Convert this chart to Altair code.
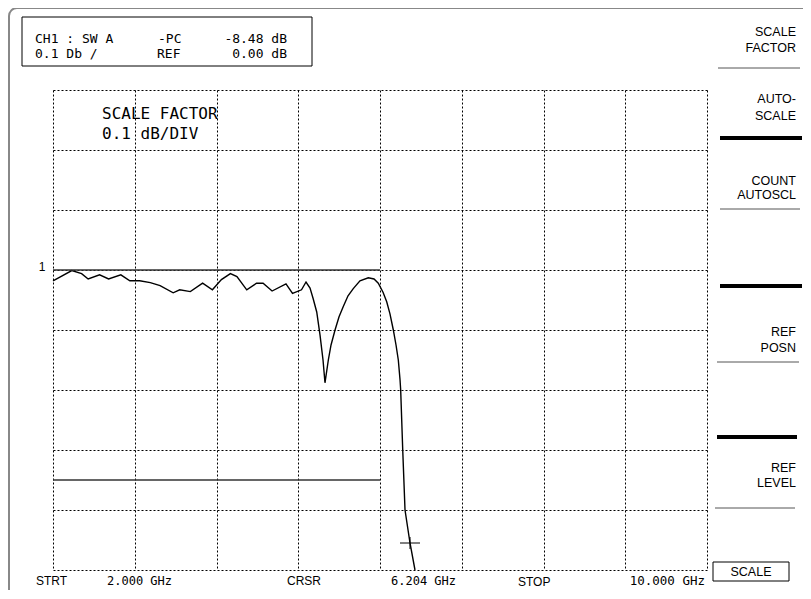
import altair as alt
import pandas as pd

# ---- trace data (frequency in GHz, transmission in dB) ----
freq_ghz = [2.00, 2.23, 2.35, 2.43, 2.57, 2.68, 2.83, 2.94, 3.06, 3.19, 3.31, 3.47,
            3.55, 3.68, 3.83, 3.95, 4.06, 4.17, 4.25, 4.37, 4.49, 4.57, 4.68, 4.85,
            4.93, 5.04, 5.095, 5.144, 5.181, 5.226, 5.266, 5.303, 5.327, 5.368, 5.401,
            5.450, 5.499, 5.551, 5.609, 5.673, 5.755, 5.857, 5.927, 5.979, 6.037,
            6.082, 6.122, 6.163, 6.196, 6.224, 6.245, 6.253, 6.278, 6.306, 6.367, 6.428]
level_db = [-0.018, -0.001, -0.006, -0.015, -0.008, -0.015, -0.008, -0.018, -0.018,
            -0.021, -0.026, -0.038, -0.033, -0.036, -0.022, -0.033, -0.016, -0.006,
            -0.011, -0.033, -0.022, -0.022, -0.035, -0.023, -0.039, -0.033, -0.020,
            -0.030, -0.047, -0.070, -0.108, -0.150, -0.188, -0.150, -0.125, -0.100,
            -0.078, -0.061, -0.043, -0.031, -0.018, -0.013, -0.015, -0.022, -0.037,
            -0.053, -0.073, -0.100, -0.125, -0.150, -0.183, -0.200, -0.300, -0.400,
            -0.455, -0.500]

ref_line_ghz = [2.0, 6.0]
ref_line_db = [0.0, -0.35]
cursor_ghz = [6.367]
cursor_db = [-0.455]

x_ticks = [2, 3, 4, 5, 6, 7, 8, 9, 10]
y_ticks = [-0.5, -0.4, -0.3, -0.2, -0.1, 0.0, 0.1, 0.2, 0.3]

header_line1 = ["CH1 : SW A", "-PC", "-8.48 dB"]
header_line2 = ["0.1 Db /", "REF", "0.00 dB"]
scale_text = ["SCALE FACTOR", "0.1 dB/DIV"]
softkeys = [["SCALE", "FACTOR"], ["AUTO-", "SCALE"], ["COUNT", "AUTOSCL"],
            ["REF", "POSN"], ["REF", "LEVEL"]]
bottom_labels = ["STRT", "2.000 GHz", "CRSR", "6.204 GHz", "STOP", "10.000 GHz"]

# ---- layout helpers (page pixel coords -> plot group coords) ----
OX, OY = 53, 90
W, H = 654, 480
MONO = "DejaVu Sans Mono"
SANS = "Liberation Sans"
one = alt.Data(values=[{}])


def text(t, x, y, size=12, font=SANS, align="left", baseline="middle"):
    return alt.Chart(one).mark_text(text=t, align=align, baseline=baseline,
                                    font=font, fontSize=size, color="black").encode(
        x=alt.value(x - OX), y=alt.value(y - OY))


def hline(x1, x2, y, width=1, color="black"):
    return alt.Chart(one).mark_rule(color=color, strokeWidth=width).encode(
        x=alt.value(x1 - OX), x2=alt.value(x2 - OX), y=alt.value(y - OY))


def box(x1, y1, x2, y2, color="black", width=1, radius=0):
    return alt.Chart(one).mark_rect(fillOpacity=0, stroke=color, strokeWidth=width,
                                    cornerRadius=radius).encode(
        x=alt.value(x1 - OX), x2=alt.value(x2 - OX),
        y=alt.value(y1 - OY), y2=alt.value(y2 - OY))


trace = pd.DataFrame({"f": freq_ghz, "db": level_db, "i": range(len(freq_ghz))})
refs = pd.DataFrame({"f0": [ref_line_ghz[0]] * 2, "f1": [ref_line_ghz[1]] * 2,
                     "db": ref_line_db})
cur = pd.DataFrame({"f": cursor_ghz, "db": cursor_db})

grid = dict(grid=True, labels=False, ticks=False, domain=False, title=None,
            gridColor="black", gridDash=[2, 2], gridWidth=1, gridOpacity=1)
xs = alt.Scale(domain=[2, 10], nice=False, zero=False)
ys = alt.Scale(domain=[-0.5, 0.3], nice=False, zero=False)

line = alt.Chart(trace).mark_line(color="black", strokeWidth=1.4).encode(
    x=alt.X("f:Q", scale=xs, axis=alt.Axis(values=x_ticks, **grid)),
    y=alt.Y("db:Q", scale=ys, axis=alt.Axis(values=y_ticks, **grid)),
    order="i:Q")

reflines = alt.Chart(refs).mark_rule(color="#333333", strokeWidth=1.5).encode(
    x=alt.X("f0:Q", scale=xs), x2="f1:Q", y=alt.Y("db:Q", scale=ys))

cursor = alt.Chart(cur).mark_point(shape="M-1,0L1,0M0,-0.6L0,0.6", size=400,
                                   filled=False, color="black", strokeWidth=1,
                                   opacity=1).encode(
    x=alt.X("f:Q", scale=xs), y=alt.Y("db:Q", scale=ys))

layers = [line, reflines, cursor]

# outer frame
layers.append(box(9, 8, 830, 640, color="#888888", width=2, radius=8))

# header box
layers.append(box(22, 17, 312, 66))
layers.append(text(header_line1[0], 35, 39, 13, MONO))
layers.append(text(header_line1[1], 158, 39, 13, MONO))
layers.append(text(header_line1[2], 287, 39, 13, MONO, align="right"))
layers.append(text(header_line2[0], 35, 54, 13, MONO))
layers.append(text(header_line2[1], 157, 54, 13, MONO))
layers.append(text(header_line2[2], 287, 54, 13, MONO, align="right"))

# scale factor annotation inside the grid
layers.append(text(scale_text[0], 102, 114, 16, MONO))
layers.append(text(scale_text[1], 102, 134, 16, MONO))

# reference marker
layers.append(text("1", 42, 267, 12, SANS, align="center"))

# softkey panel
key_y = [(32, 48), (99, 116), (181, 195), (332, 348), (468, 483)]
for (l1, l2), (y1, y2) in zip(softkeys, key_y):
    layers.append(text(l1, 796, y1, 12.5, SANS, align="right"))
    layers.append(text(l2, 796, y2, 12.5, SANS, align="right"))
for y, x1, x2 in [(68, 718, 800), (209, 720, 800), (362, 717, 799), (508, 715, 795)]:
    layers.append(hline(x1, x2, y, 1, "#555555"))
for y, x1, x2 in [(138, 720, 802), (286, 720, 802), (437, 717, 797)]:
    layers.append(hline(x1, x2, y, 4, "black"))
layers.append(box(713, 562, 789, 581))
layers.append(text("SCALE", 751, 572, 12.5, SANS, align="center"))

# bottom annotation row
layers.append(text(bottom_labels[0], 36, 581, 12, SANS))
layers.append(text(bottom_labels[1], 107, 581, 12, MONO))
layers.append(text(bottom_labels[2], 287, 581, 12, SANS))
layers.append(text(bottom_labels[3], 391, 581, 12, MONO))
layers.append(text(bottom_labels[4], 518, 582, 12, SANS))
layers.append(text(bottom_labels[5], 705, 581, 12.5, MONO, align="right"))

chart = alt.layer(*layers).properties(
    width=W, height=H,
    padding={"left": 45, "top": 82, "right": 96, "bottom": 20},
    autosize=alt.AutoSizeParams(type="none"),
    background="white",
).configure_view(strokeWidth=0)

chart.save("out.html", embed_options={"renderer": "svg", "actions": False})
